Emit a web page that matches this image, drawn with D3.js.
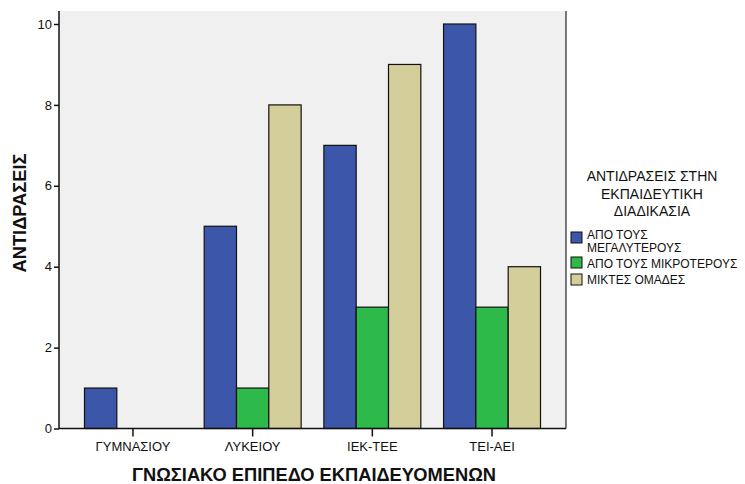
<!DOCTYPE html>
<html>
<head>
<meta charset="utf-8">
<script src="https://cdn.jsdelivr.net/npm/d3@7"></script>
<style>
  html, body { margin: 0; padding: 0; background: #fff; }
  svg { display: block; font-family: "Liberation Sans", Arial, sans-serif; }
</style>
</head>
<body>
<svg id="chart" width="745" height="484"></svg>
<script>
// Education level categories (x axis)
const categories = ["ΓΥΜΝΑΣΙΟΥ", "ΛΥΚΕΙΟΥ", "ΙΕΚ-ΤΕΕ", "ΤΕΙ-ΑΕΙ"];
// Series names (legend)
const seriesNames = ["ΑΠΟ ΤΟΥΣ ΜΕΓΑΛΥΤΕΡΟΥΣ", "ΑΠΟ ΤΟΥΣ ΜΙΚΡΟΤΕΡΟΥΣ", "ΜΙΚΤΕΣ ΟΜΑΔΕΣ"];
// Counts per category for each series
const fromOlder   = [1, 5, 7, 10];
const fromYounger = [0, 1, 3, 3];
const mixedGroups = [0, 8, 9, 4];
const yTicks = [0, 2, 4, 6, 8, 10];
const seriesColors = ["#3c56aa", "#2eb94b", "#d4cf9a"];

const seriesValues = [fromOlder, fromYounger, mixedGroups];
const rows = categories.map((c, i) => ({
  category: c,
  values: seriesValues.map((vals, s) => ({ series: s, value: vals[i] }))
}));

const svg = d3.select("#chart");
const plot = { left: 59, right: 566, top: 11, bottom: 428.5 };

const x0 = d3.scaleBand()
  .domain(categories)
  .range([plot.left, plot.right])
  .paddingInner(0.19)
  .paddingOuter(0.213);
const x1 = d3.scaleBand()
  .domain(d3.range(seriesNames.length))
  .range([0, x0.bandwidth()])
  .padding(0);
const y = d3.scaleLinear().domain([0, 10]).range([plot.bottom, 24]);

// plot background
svg.append("rect")
  .attr("x", plot.left).attr("y", plot.top)
  .attr("width", plot.right - plot.left).attr("height", plot.bottom - plot.top)
  .attr("fill", "#f0f0f0");

// bars
const groups = svg.append("g").selectAll("g")
  .data(rows).join("g")
  .attr("transform", d => `translate(${x0(d.category)},0)`);
groups.selectAll("rect")
  .data(d => d.values.filter(v => v.value > 0))
  .join("rect")
  .attr("x", d => x1(d.series))
  .attr("y", d => y(d.value))
  .attr("width", x1.bandwidth())
  .attr("height", d => y(0) - y(d.value))
  .attr("fill", d => seriesColors[d.series])
  .attr("stroke", "#111")
  .attr("stroke-width", 1.2);

// right frame line
svg.append("line")
  .attr("x1", plot.right).attr("x2", plot.right)
  .attr("y1", plot.top).attr("y2", plot.bottom)
  .attr("stroke", "#222").attr("stroke-width", 1.2);

// y axis
const yAxis = svg.append("g")
  .attr("transform", `translate(${plot.left},0)`)
  .call(d3.axisLeft(y).tickValues(yTicks).tickSize(5).tickPadding(2).tickSizeOuter(0));
yAxis.select(".domain").attr("d", `M0,${plot.top}V${plot.bottom}`).attr("stroke", "#111").attr("stroke-width", 1.5);
yAxis.selectAll(".tick line").attr("stroke", "#111").attr("stroke-width", 1.5);
yAxis.selectAll("text").attr("font-size", 13).attr("fill", "#111")
  .attr("font-family", "Liberation Sans, Arial, sans-serif");

// x axis
const xAxis = svg.append("g")
  .attr("transform", `translate(0,${plot.bottom})`)
  .call(d3.axisBottom(x0).tickSize(8).tickPadding(5).tickSizeOuter(0));
xAxis.select(".domain").attr("d", `M${plot.left},0H${plot.right}`).attr("stroke", "#111").attr("stroke-width", 1.5);
xAxis.selectAll(".tick line").attr("stroke", "#111").attr("stroke-width", 1.5);
xAxis.selectAll("text").attr("font-size", 13).attr("fill", "#111")
  .attr("font-family", "Liberation Sans, Arial, sans-serif");

// axis titles
svg.append("text")
  .attr("transform", `translate(26,213) rotate(-90)`)
  .attr("text-anchor", "middle")
  .attr("font-size", 18.3).attr("font-weight", "bold").attr("fill", "#111")
  .text("ΑΝΤΙΔΡΑΣΕΙΣ");
svg.append("text")
  .attr("x", 314).attr("y", 481)
  .attr("text-anchor", "middle")
  .attr("font-size", 18.3).attr("font-weight", "bold").attr("fill", "#111")
  .text("ΓΝΩΣΙΑΚΟ ΕΠΙΠΕΔΟ ΕΚΠΑΙΔΕΥΟΜΕΝΩΝ");

// legend
const legendTitle = ["ΑΝΤΙΔΡΑΣΕΙΣ ΣΤΗΝ", "ΕΚΠΑΙΔΕΥΤΙΚΗ", "ΔΙΑΔΙΚΑΣΙΑ"];
svg.append("g").selectAll("text")
  .data(legendTitle).join("text")
  .attr("x", 652).attr("y", (d, i) => 181 + i * 17.5)
  .attr("text-anchor", "middle")
  .attr("font-size", 14).attr("fill", "#111")
  .text(d => d);

const legendItems = [
  { lines: ["ΑΠΟ ΤΟΥΣ", "ΜΕΓΑΛΥΤΕΡΟΥΣ"], top: 232, base: 238.5 },
  { lines: ["ΑΠΟ ΤΟΥΣ ΜΙΚΡΟΤΕΡΟΥΣ"], top: 257, base: 267.5 },
  { lines: ["ΜΙΚΤΕΣ ΟΜΑΔΕΣ"], top: 274, base: 284 }
];
const li = svg.append("g").selectAll("g")
  .data(legendItems).join("g");
li.append("rect")
  .attr("x", 571).attr("y", d => d.top)
  .attr("width", 11).attr("height", 11)
  .attr("fill", (d, i) => seriesColors[i])
  .attr("stroke", "#111").attr("stroke-width", 1);
li.each(function(d) {
  d3.select(this).selectAll("text.l")
    .data(d.lines).join("text")
    .attr("class", "l")
    .attr("x", 587).attr("y", (t, j) => d.base + j * 13.5)
    .attr("font-size", 12).attr("fill", "#111")
    .text(t => t);
});
</script>
</body>
</html>
